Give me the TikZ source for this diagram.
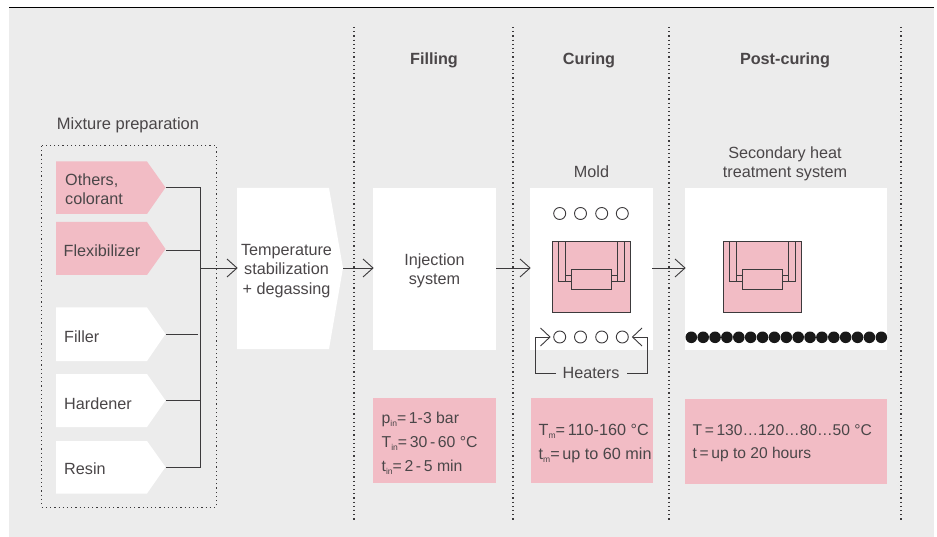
\documentclass[tikz,border=0pt]{standalone}
\usepackage{fontspec}
\setmainfont{Liberation Sans}
\definecolor{bgc}{HTML}{ECECEC}
\definecolor{pk}{HTML}{F2BCC5}
\definecolor{tx}{HTML}{4A4648}
\definecolor{ln}{HTML}{3C3A3C}
\newcommand{\subs}[1]{\raisebox{-3pt}{\fontsize{8.5}{9}\selectfont #1}}
\tikzset{
  x=1pt,y=-1pt,
  lab/.style={font=\fontsize{16.2}{19.5}\selectfont,text=tx,align=center,inner sep=0pt},
  leftlab/.style={font=\fontsize{16.2}{19.5}\selectfont,text=tx,align=left,inner sep=0pt,anchor=west},
  smalllab/.style={leftlab,font=\fontsize{15.8}{19.5}\selectfont},
  tinylab/.style={leftlab,font=\fontsize{15.6}{19.5}\selectfont},
  head/.style={font=\fontsize{16.2}{19.5}\selectfont\bfseries,text=tx,inner sep=0pt},
  dots/.style={draw=ln,line width=1.2pt,dash pattern=on 1.2pt off 3pt},
  conn/.style={draw=ln,line width=0.9pt},
  arr/.style={draw=ln,line width=0.9pt},
  mold/.style={draw=ln,line width=0.9pt,fill=pk},
  heater/.style={circle,draw=ln,line width=0.9pt,fill=white,minimum size=12pt,inner sep=0pt},
  bheater/.style={circle,fill=black!90,minimum size=11.6pt,inner sep=0pt}
}
\newcommand{\tip}[2]{\draw[arr] (#1-10,#2-9) -- (#1,#2) -- (#1-10,#2+9);}
\newcommand{\moldshape}[2]{%
  \begin{scope}[shift={(#1,#2)}]
  \fill[pk] (0,0) rectangle (78,71);
  \draw[mold,fill=none] (0,0) rectangle (78,71);
  \draw[conn] (6,0) -- (6,40) -- (19,40);
  \draw[conn] (13,0) -- (13,33.5) -- (19,33.5);
  \draw[conn] (13,33.5) -- (13,40);
  \draw[conn] (71.5,0) -- (71.5,40) -- (59,40);
  \draw[conn] (64.5,0) -- (64.5,33.5) -- (59,33.5);
  \draw[conn] (64.5,33.5) -- (64.5,40);
  \draw[mold] (19,28) rectangle (59,47.5);
  \end{scope}}
\begin{document}
\begin{tikzpicture}
\useasboundingbox (0,0) rectangle (937,537);
\fill[white] (0,0) rectangle (937,537);
\fill[bgc] (9,8) rectangle (934,537);
\draw[black,line width=1pt] (9,7.5) -- (934,7.5);
% separators
\foreach \x in {354,513,669,901} \draw[dots] (\x,27) -- (\x,522);
% mixture box
\draw[dots,line width=1pt] (41.5,146) rectangle (216.5,507);
\node[lab,font=\fontsize{16.5}{19.5}\selectfont] (mixlab) at (128,125) {Mixture preparation};
% chevrons
\fill[pk] (56,161.5) -- (147,161.5) -- (165.5,187.5) -- (147,214) -- (56,214) -- cycle;
\coordinate (o1) at (166,187.5);
\node[leftlab] (others) at (65,189) {Others,\\colorant};
\fill[pk] (56,222) -- (147,222) -- (165.5,249) -- (147,275) -- (56,275) -- cycle;
\coordinate (o2) at (166,250);
\node[leftlab] (flex) at (63.5,250.5) {Flexibilizer};
\fill[white] (56,307.5) -- (147,307.5) -- (165.5,334) -- (147,361) -- (56,361) -- cycle;
\coordinate (o3) at (166,334);
\node[leftlab] (filler) at (64,337) {Filler};
\fill[white] (56,374) -- (147,374) -- (165.5,400.5) -- (147,427) -- (56,427) -- cycle;
\coordinate (o4) at (166,400.5);
\node[leftlab] (hard) at (64,403.5) {Hardener};
\fill[white] (56,441) -- (147,441) -- (165.5,467) -- (147,493.5) -- (56,493.5) -- cycle;
\coordinate (o5) at (166,467);
\node[leftlab] (resin) at (64,468.5) {Resin};
% bus
\coordinate (bt) at (200.5,187.5);
\coordinate (bb) at (200.5,467);
\coordinate (bm) at (200.5,268);
\draw[conn] (o1) -- (bt) -- (bb) -- (o5);
\draw[conn] (o2) -- (200.5,250);
\draw[conn] (o3) -- (198,334);
\draw[conn] (o4) -- (200.5,400.5);
% temp stabilization
\fill[white] (237,188) -- (329,188) -- (343,268) -- (329,349) -- (237,349) -- cycle;
\node[lab] (temp) at (286.5,271) {Temperature\\stabilization\\+ degassing};
\coordinate (a1) at (237,268);
\draw[conn] (bm) -- (a1);
\tip{237}{268}
% filling
\node[head] (hfill) at (434,60) {Filling};
\fill[white] (373,188) rectangle (496,350);
\node[lab] (inj) at (434.5,271) {Injection\\system};
\coordinate (a2s) at (343,268);
\coordinate (a2e) at (373,268);
\draw[conn] (a2s) -- (a2e);
\tip{373}{268}
\fill[pk] (373,398) rectangle (496,483);
\node[smalllab] (p1) at (381.5,419.5) {p\subs{in}=\,1-3 bar};
\node[smalllab] (p2) at (381.5,443.5) {T\subs{in}=\,30\,-\,60 °C};
\node[smalllab] (p3) at (381.5,467.5) {t\subs{in}=\,2\,-\,5 min};
% curing
\node[head] (hcur) at (589,60) {Curing};
\node[lab] (mold) at (591.5,171.5) {Mold};
\fill[white] (530,188) rectangle (653,350);
\coordinate (a3s) at (496,268);
\coordinate (a3e) at (530,268);
\draw[conn] (a3s) -- (a3e);
\tip{530}{268}
\foreach \x in {559.7,580.5,601.7,622.3} \node[heater] at (\x,213.5) {};
\moldshape{552.5}{241.5}
\foreach \x [count=\i] in {559.7,580.5,601.7,622.3} \node[heater] (h\i) at (\x,337) {};
\node[lab] (heat) at (591,373) {Heaters};
\coordinate (ha) at (550,337);
\coordinate (hb) at (632.5,337);
\draw[conn] (556,373) -- (535.5,373) -- (535.5,337) -- (ha);
\draw[conn] (627,373) -- (647.5,373) -- (647.5,337) -- (hb);
\draw[arr] (540.5,328) -- (ha) -- (540.5,346);
\draw[arr] (642,328) -- (hb) -- (642,346);
\fill[pk] (531,398) rectangle (653,483);
\node[leftlab] (c1) at (538.5,431.5) {T\subs{m}=\,110-160 °C};
\node[leftlab] (c2) at (538.5,455.5) {t\subs{m}=\,up to 60 min};
% post-curing
\node[head] (hpost) at (785,60) {Post-curing};
\node[lab] (sec) at (785,164) {Secondary heat\\treatment system};
\fill[white] (685,188) rectangle (887,350);
\coordinate (a4s) at (652,268);
\coordinate (a4e) at (685,268);
\draw[conn] (a4s) -- (a4e);
\tip{685}{268}
\moldshape{723.5}{241.5}
\foreach \i in {0,...,16} \node[bheater] at (691.3+\i*11.875,337.3) {};
\fill[pk] (685,399) rectangle (887,484);
\node[tinylab] (d1) at (692.5,430.5) {T\,=\,130…120…80…50 °C};
\node[tinylab] (d2) at (692.5,454.5) {t\,=\,up to 20 hours};
\end{tikzpicture}
\end{document}
